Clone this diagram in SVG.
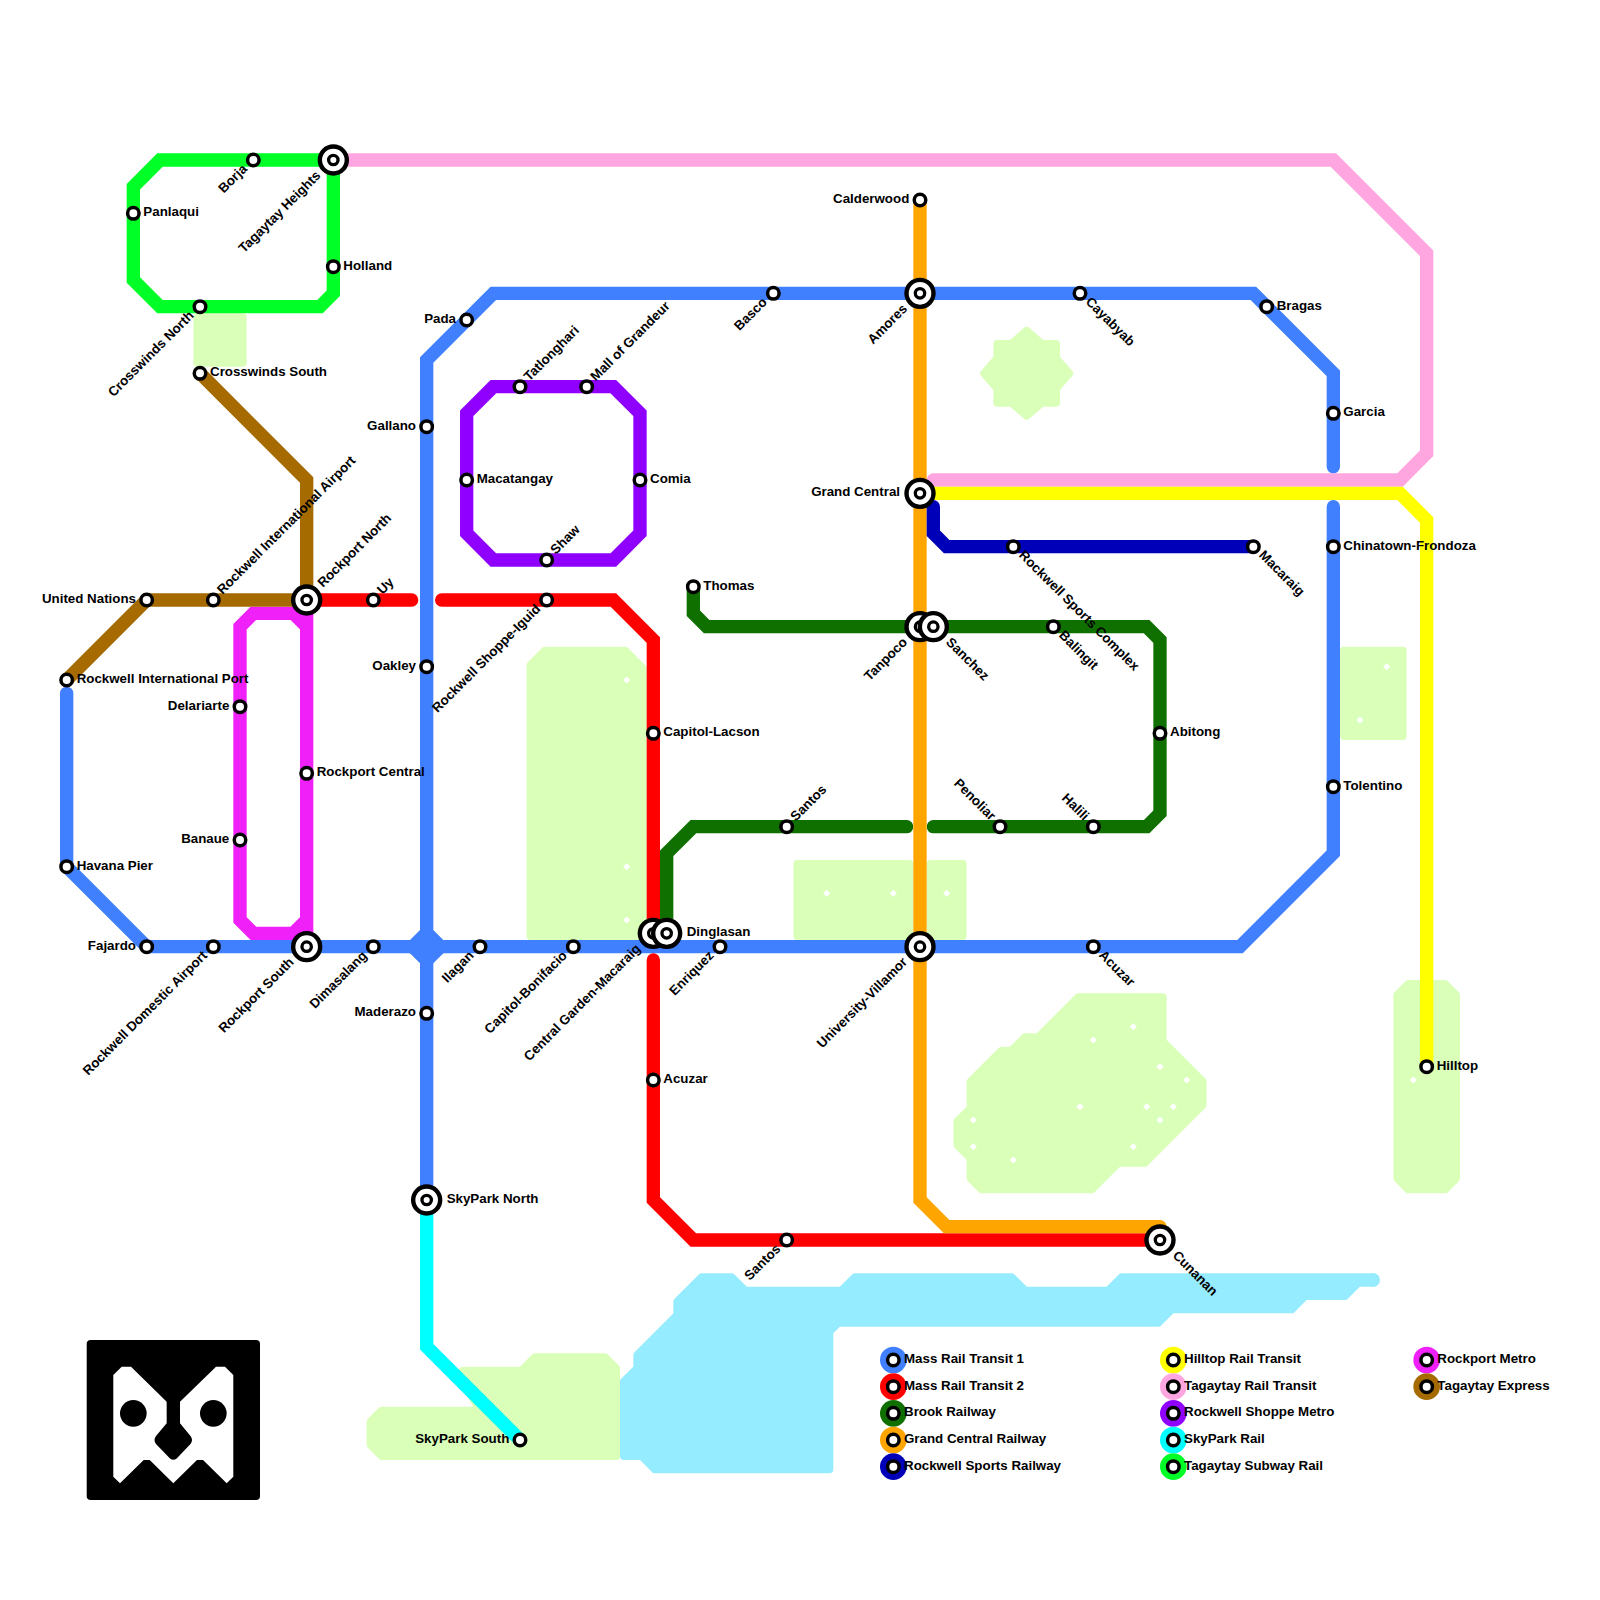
<svg xmlns="http://www.w3.org/2000/svg" width="1600" height="1600" viewBox="0 0 1600 1600">
<style>
text{font-family:"Liberation Sans",Arial,sans-serif;font-size:13.33px;font-weight:700;fill:#000}
.e{text-anchor:end}
.ln{fill:none;stroke-width:13.33;stroke-linejoin:miter;stroke-linecap:round}
.park{fill:#d9ffb8;stroke:#d9ffb8;stroke-width:8;stroke-linejoin:round}
.water{fill:#96ecff;stroke:#96ecff;stroke-width:8;stroke-linejoin:round}
.dia{fill:#fff}
.s{fill:#fff;stroke:#000;stroke-width:3.5}
.o{fill:#fff;stroke:#000;stroke-width:4.4}
.i{fill:#fff;stroke:#000;stroke-width:3.3}
.blue{stroke:#4080ff}.red{stroke:#ff0000}.brook{stroke:#0f7000}.orange{stroke:#ffa500}.navy{stroke:#0000b8}
.yellow{stroke:#ffff00}.pink{stroke:#ffa6e0}.purple{stroke:#8f00ff}.cyan{stroke:#00ffff}.green{stroke:#00ff26}.mag{stroke:#f020f8}.brown{stroke:#a56a00}
</style>
<defs>
<g id="st"><circle r="5.75" class="s"/></g>
<g id="big"><circle r="13.5" class="o"/><circle r="4.7" class="i"/></g>
<path id="d" class="dia" d="M0-3.6L3.6 0L0 3.6L-3.6 0Z"/>
</defs>

<g id="terrain">
<polygon class="water" points="701.67,1277.33 731.67,1277.33 745,1290.67 841.67,1290.67 855,1277.33 1011.67,1277.33 1025,1290.67 1108.33,1290.67 1121.67,1277.33 1373.33,1277.33 1373.33,1282.67 1358.33,1282.67 1345,1296 1305,1296 1291.67,1309.33 1171.67,1309.33 1158.33,1322.67 838.33,1322.67 829.33,1331.67 829.33,1469.33 655,1469.33 641.67,1456 624,1456 624,1381.67 637.33,1368.33 637.33,1355 677.33,1315 677.33,1301.67"/>
<circle cx="1373.33" cy="1280" r="6.67" fill="#96ecff"/>
<rect class="park" x="197.33" y="317.33" width="45.33" height="45.33"/>
<polygon class="park" points="530.67,665 545,650.67 625,650.67 642.67,668.33 642.67,936 530.67,936"/>
<rect class="park" x="797.33" y="864" width="112" height="72"/>
<rect class="park" x="930.67" y="864" width="32" height="72"/>
<polygon class="park" points="1026.67,330.8 1041.67,344 1056,344 1056,358.33 1069.2,373.33 1056,388.33 1056,402.67 1041.67,402.67 1026.67,415.8 1011.67,402.67 997.33,402.67 997.33,388.33 984.2,373.33 997.33,358.33 997.33,344 1011.67,344"/>
<rect class="park" x="1344" y="650.67" width="58.67" height="85.33"/>
<polygon class="park" points="1397.33,995 1408.33,984 1445,984 1456,995 1456,1178.33 1445,1189.33 1408.33,1189.33 1397.33,1178.33"/>
<polygon class="park" points="1078.33,997.33 1162.67,997.33 1162.67,1041.67 1202.67,1081.67 1202.67,1105 1145,1162.67 1118.33,1162.67 1091.67,1189.33 981.67,1189.33 970.67,1178.33 970.67,1158.33 957.33,1145 957.33,1121.67 970.67,1108.33 970.67,1081.67 1001.67,1050.67 1011.67,1050.67 1025,1037.33 1038.33,1037.33"/>
<polygon class="park" points="370.67,1421.67 381.67,1410.67 480,1410.67 466,1386 463,1370.67 521.67,1370.67 535,1357.33 605,1357.33 616,1368.33 616,1456 381.67,1456 370.67,1445"/>
<use href="#d" x="626.67" y="680"/><use href="#d" x="626.67" y="866.67"/><use href="#d" x="626.67" y="920"/>
<use href="#d" x="826.67" y="893.33"/><use href="#d" x="893.33" y="893.33"/><use href="#d" x="946.67" y="893.33"/>
<use href="#d" x="1386.67" y="666.67"/><use href="#d" x="1360" y="720"/><use href="#d" x="1413.33" y="1080"/>
<use href="#d" x="1133.33" y="1026.67"/><use href="#d" x="1093.33" y="1040"/><use href="#d" x="1160" y="1066.67"/><use href="#d" x="1186.67" y="1080"/>
<use href="#d" x="1080" y="1106.67"/><use href="#d" x="1146.67" y="1106.67"/><use href="#d" x="1173.33" y="1106.67"/><use href="#d" x="1160" y="1120"/>
<use href="#d" x="973.33" y="1120"/><use href="#d" x="973.33" y="1146.67"/><use href="#d" x="1133.33" y="1146.67"/><use href="#d" x="1013.33" y="1160"/>
</g>

<g id="connectors">
<path class="ln pink" d="M333.33 160H1333.33L1426.67 253.33V453.33L1400 480H933.33"/>
<path class="ln green" d="M333.33 160H160L133.33 186.67V280L160 306.67H320L333.33 293.33V160"/>
<path class="ln mag" d="M306.67 600V626.67L293.33 613.33H253.33L240 626.67V920L253.33 933.33H293.33L306.67 920V626.67M306.67 920V946.67"/>
<path class="ln brown" d="M200 373.33L306.67 480V600H146.67L66.67 680"/>
<path class="ln blue" d="M66.67 693.33V866.67L146.67 946.67H1240L1333.33 853.33V506.67"/>
<path class="ln blue" d="M1333.33 466.67V373.33L1253.33 293.33H493.33L426.67 360V1200"/>
<polygon fill="#4080ff" points="420,930 433.33,930 443.33,940 443.33,953.33 433.33,963.33 420,963.33 410,953.33 410,940"/>
<path class="ln red" d="M306.67 600H411.67M441.67 600H613.33L653.33 640V933.33M653.33 960V1200L693.33 1240H1160"/>
<path class="ln brook" d="M693.33 586.67V613.33L706.67 626.67H1146.67L1160 640V813.33L1146.67 826.67H933.33M906.67 826.67H693.33L666.67 853.33V933.33"/>
<path class="ln orange" d="M920 200V1200L946.67 1226.67H1160"/>
<path class="ln navy" d="M933.33 506.67V533.33L946.67 546.67H1253.33"/>
<path class="ln yellow" d="M920 493.33H1400L1426.67 520V1066.67"/>
<path class="ln purple" d="M493.33 386.67H613.33L640 413.33V533.33L613.33 560H493.33L466.67 533.33V413.33Z"/>
<path class="ln cyan" d="M426.67 1200V1346.67L520 1440"/>
</g>

<g id="logo">
<rect x="86.7" y="1340" width="173.3" height="160" rx="4" fill="#000"/>
<path fill="#fff" d="M113.3 1375L121.7 1366.7H131L166.7 1401.7H180L216 1366.7H225L233.3 1375V1476.7L226.7 1483.3L203 1460H197L173.3 1483.3L149.7 1460H143.7L120 1483.3L113.3 1476.7Z"/>
<path fill="#000" d="M166.67 1400V1423.33L156 1436Q153 1440 156 1444L170 1458.5Q173.33 1461 176.67 1458.5L190.5 1444Q193.5 1440 190.5 1436L180 1423.33V1400Z"/>
<circle cx="133.33" cy="1413.33" r="13.33" fill="#000"/><circle cx="213.33" cy="1413.33" r="13.33" fill="#000"/>
</g>

<g id="stations">
<g id="n-tagaytay-heights"><use href="#big" x="333.33" y="160"/><text class="e" x="313.33" y="163" transform="rotate(-45 333.33 160)">Tagaytay Heights</text></g>
<g id="n-borja"><use href="#st" x="253.33" y="160"/><text class="e" x="242.63" y="163" transform="rotate(-45 253.33 160)">Borja</text></g>
<g id="n-panlaqui"><use href="#st" x="133.33" y="213.33"/><text x="143.33" y="216.33">Panlaqui</text></g>
<g id="n-holland"><use href="#st" x="333.33" y="266.67"/><text x="343.33" y="269.67">Holland</text></g>
<g id="n-crosswinds-north"><use href="#st" x="200" y="306.67"/><text class="e" x="189.3" y="309.67" transform="rotate(-45 200 306.67)">Crosswinds North</text></g>
<g id="n-crosswinds-south"><use href="#st" x="200" y="373.33"/><text x="210" y="376.33">Crosswinds South</text></g>
<g id="n-pada"><use href="#st" x="466.67" y="320"/><text class="e" x="456" y="323">Pada</text></g>
<g id="n-gallano"><use href="#st" x="426.67" y="426.67"/><text class="e" x="416" y="429.67">Gallano</text></g>
<g id="n-oakley"><use href="#st" x="426.67" y="666.67"/><text class="e" x="416" y="669.67">Oakley</text></g>
<g id="n-maderazo"><use href="#st" x="426.67" y="1013.33"/><text class="e" x="416" y="1016.33">Maderazo</text></g>
<g id="n-tatlonghari"><use href="#st" x="520" y="386.67"/><text x="530" y="389.67" transform="rotate(-45 520 386.67)">Tatlonghari</text></g>
<g id="n-mall-of-grandeur"><use href="#st" x="586.67" y="386.67"/><text x="596.67" y="389.67" transform="rotate(-45 586.67 386.67)">Mall of Grandeur</text></g>
<g id="n-comia"><use href="#st" x="640" y="480"/><text x="650" y="483">Comia</text></g>
<g id="n-shaw"><use href="#st" x="546.67" y="560"/><text x="556.67" y="563" transform="rotate(-45 546.67 560)">Shaw</text></g>
<g id="n-macatangay"><use href="#st" x="466.67" y="480"/><text x="476.67" y="483">Macatangay</text></g>
<g id="n-basco"><use href="#st" x="773.33" y="293.33"/><text class="e" x="762.6" y="296.33" transform="rotate(-45 773.33 293.33)">Basco</text></g>
<g id="n-amores"><use href="#big" x="920" y="293.33"/><text class="e" x="900" y="296.33" transform="rotate(-45 920 293.33)">Amores</text></g>
<g id="n-cayabyab"><use href="#st" x="1080" y="293.33"/><text x="1090" y="296.33" transform="rotate(45 1080 293.33)">Cayabyab</text></g>
<g id="n-bragas"><use href="#st" x="1266.67" y="306.67"/><text x="1276.67" y="309.67">Bragas</text></g>
<g id="n-garcia"><use href="#st" x="1333.33" y="413.33"/><text x="1343.33" y="416.33">Garcia</text></g>
<g id="n-chinatown-frondoza"><use href="#st" x="1333.33" y="546.67"/><text x="1343.33" y="549.67">Chinatown-Frondoza</text></g>
<g id="n-tolentino"><use href="#st" x="1333.33" y="786.67"/><text x="1343.33" y="789.67">Tolentino</text></g>
<g id="n-calderwood"><use href="#st" x="920" y="200"/><text class="e" x="909.3" y="203">Calderwood</text></g>
<g id="n-grand-central"><use href="#big" x="920" y="493.33"/><text class="e" x="900" y="496.33">Grand Central</text></g>
<g id="n-macaraig"><use href="#st" x="1253.33" y="546.67"/><text x="1263.33" y="549.67" transform="rotate(45 1253.33 546.67)">Macaraig</text></g>
<g id="n-rockwell-sports-complex"><use href="#st" x="1013.33" y="546.67"/><text x="1023.33" y="549.67" transform="rotate(45 1013.33 546.67)">Rockwell Sports Complex</text></g>
<g id="n-balingit"><use href="#st" x="1053.33" y="626.67"/><text x="1063.33" y="629.67" transform="rotate(45 1053.33 626.67)">Balingit</text></g>
<g id="n-tanpoco"><use href="#big" x="920" y="626.67"/><text class="e" x="900" y="629.67" transform="rotate(-45 920 626.67)">Tanpoco</text></g>
<g id="n-sanchez"><use href="#big" x="933.33" y="626.67"/><text x="953.33" y="629.67" transform="rotate(45 933.33 626.67)">Sanchez</text></g>
<g id="n-thomas"><use href="#st" x="693.33" y="586.67"/><text x="703.33" y="589.67">Thomas</text></g>
<g id="n-abitong"><use href="#st" x="1160" y="733.33"/><text x="1170" y="736.33">Abitong</text></g>
<g id="n-santos-brook"><use href="#st" x="786.67" y="826.67"/><text x="796.67" y="829.67" transform="rotate(-45 786.67 826.67)">Santos</text></g>
<g id="n-penoliar"><use href="#st" x="1000" y="826.67"/><text class="e" x="989.3" y="829.67" transform="rotate(45 1000 826.67)">Penoliar</text></g>
<g id="n-halili"><use href="#st" x="1093.33" y="826.67"/><text class="e" x="1082.6" y="829.67" transform="rotate(45 1093.33 826.67)">Halili</text></g>
<g id="n-acuzar-east"><use href="#st" x="1093.33" y="946.67"/><text x="1103.33" y="949.67" transform="rotate(45 1093.33 946.67)">Acuzar</text></g>
<g id="n-university-villamor"><use href="#big" x="920" y="946.67"/><text class="e" x="900" y="949.67" transform="rotate(-45 920 946.67)">University-Villamor</text></g>
<g id="n-enriquez"><use href="#st" x="720" y="946.67"/><text class="e" x="709.3" y="949.67" transform="rotate(-45 720 946.67)">Enriquez</text></g>
<g id="n-capitol-bonifacio"><use href="#st" x="573.33" y="946.67"/><text class="e" x="562.6" y="949.67" transform="rotate(-45 573.33 946.67)">Capitol-Bonifacio</text></g>
<g id="n-central-garden-macaraig"><use href="#big" x="653.33" y="933.33"/><text class="e" x="633.33" y="936.33" transform="rotate(-45 653.33 933.33)">Central Garden-Macaraig</text></g>
<g id="n-dinglasan"><use href="#big" x="666.67" y="933.33"/><text x="686.67" y="936.33">Dinglasan</text></g>
<g id="n-ilagan"><use href="#st" x="480" y="946.67"/><text class="e" x="469.3" y="949.67" transform="rotate(-45 480 946.67)">Ilagan</text></g>
<g id="n-dimasalang"><use href="#st" x="373.33" y="946.67"/><text class="e" x="362.6" y="949.67" transform="rotate(-45 373.33 946.67)">Dimasalang</text></g>
<g id="n-rockport-south"><use href="#big" x="306.67" y="946.67"/><text class="e" x="286.67" y="949.67" transform="rotate(-45 306.67 946.67)">Rockport South</text></g>
<g id="n-rockwell-domestic-airport"><use href="#st" x="213.33" y="946.67"/><text class="e" x="202.6" y="949.67" transform="rotate(-45 213.33 946.67)">Rockwell Domestic Airport</text></g>
<g id="n-fajardo"><use href="#st" x="146.67" y="946.67"/><text class="e" x="136" y="949.67">Fajardo</text></g>
<g id="n-havana-pier"><use href="#st" x="66.67" y="866.67"/><text x="76.67" y="869.67">Havana Pier</text></g>
<g id="n-rockwell-international-port"><use href="#st" x="66.67" y="680"/><text x="76.67" y="683">Rockwell International Port</text></g>
<g id="n-united-nations"><use href="#st" x="146.67" y="600"/><text class="e" x="136" y="603">United Nations</text></g>
<g id="n-rockwell-international-airport"><use href="#st" x="213.33" y="600"/><text x="223.33" y="603" transform="rotate(-45 213.33 600)">Rockwell International Airport</text></g>
<g id="n-rockport-north"><use href="#big" x="306.67" y="600"/><text x="326.67" y="603" transform="rotate(-45 306.67 600)">Rockport North</text></g>
<g id="n-uy"><use href="#st" x="373.33" y="600"/><text x="383.33" y="603" transform="rotate(-45 373.33 600)">Uy</text></g>
<g id="n-rockwell-shoppe-iguid"><use href="#st" x="546.67" y="600"/><text class="e" x="536" y="603" transform="rotate(-45 546.67 600)">Rockwell Shoppe-Iguid</text></g>
<g id="n-delariarte"><use href="#st" x="240" y="706.67"/><text class="e" x="229.3" y="709.67">Delariarte</text></g>
<g id="n-banaue"><use href="#st" x="240" y="840"/><text class="e" x="229.3" y="843">Banaue</text></g>
<g id="n-rockport-central"><use href="#st" x="306.67" y="773.33"/><text x="316.67" y="776.33">Rockport Central</text></g>
<g id="n-skypark-north"><use href="#big" x="426.67" y="1200"/><text x="446.67" y="1203">SkyPark North</text></g>
<g id="n-skypark-south"><use href="#st" x="520" y="1440"/><text class="e" x="509.3" y="1443">SkyPark South</text></g>
<g id="n-santos-south"><use href="#st" x="786.67" y="1240"/><text class="e" x="776" y="1243" transform="rotate(-45 786.67 1240)">Santos</text></g>
<g id="n-acuzar"><use href="#st" x="653.33" y="1080"/><text x="663.33" y="1083">Acuzar</text></g>
<g id="n-capitol-lacson"><use href="#st" x="653.33" y="733.33"/><text x="663.33" y="736.33">Capitol-Lacson</text></g>
<g id="n-cunanan"><use href="#big" x="1160" y="1240"/><text x="1180" y="1243" transform="rotate(45 1160 1240)">Cunanan</text></g>
<g id="n-hilltop"><use href="#st" x="1426.67" y="1066.67"/><text x="1436.67" y="1069.67">Hilltop</text></g>
</g>

<g id="legend">
<g id="k1"><circle cx="893.33" cy="1360" r="13.33" fill="#4080ff"/><use href="#st" x="893.33" y="1360"/><text x="904" y="1363">Mass Rail Transit 1</text></g>
<g id="k2"><circle cx="893.33" cy="1386.67" r="13.33" fill="#ff0000"/><use href="#st" x="893.33" y="1386.67"/><text x="904" y="1389.67">Mass Rail Transit 2</text></g>
<g id="k3"><circle cx="893.33" cy="1413.33" r="13.33" fill="#0f7000"/><use href="#st" x="893.33" y="1413.33"/><text x="904" y="1416.33">Brook Railway</text></g>
<g id="k4"><circle cx="893.33" cy="1440" r="13.33" fill="#ffa500"/><use href="#st" x="893.33" y="1440"/><text x="904" y="1443">Grand Central Railway</text></g>
<g id="k5"><circle cx="893.33" cy="1466.67" r="13.33" fill="#0000b8"/><use href="#st" x="893.33" y="1466.67"/><text x="904" y="1469.67">Rockwell Sports Railway</text></g>
<g id="k6"><circle cx="1173.33" cy="1360" r="13.33" fill="#ffff00"/><use href="#st" x="1173.33" y="1360"/><text x="1184" y="1363">Hilltop Rail Transit</text></g>
<g id="k7"><circle cx="1173.33" cy="1386.67" r="13.33" fill="#ffa6e0"/><use href="#st" x="1173.33" y="1386.67"/><text x="1184" y="1389.67">Tagaytay Rail Transit</text></g>
<g id="k8"><circle cx="1173.33" cy="1413.33" r="13.33" fill="#8f00ff"/><use href="#st" x="1173.33" y="1413.33"/><text x="1184" y="1416.33">Rockwell Shoppe Metro</text></g>
<g id="k9"><circle cx="1173.33" cy="1440" r="13.33" fill="#00ffff"/><use href="#st" x="1173.33" y="1440"/><text x="1184" y="1443">SkyPark Rail</text></g>
<g id="k10"><circle cx="1173.33" cy="1466.67" r="13.33" fill="#00ff26"/><use href="#st" x="1173.33" y="1466.67"/><text x="1184" y="1469.67">Tagaytay Subway Rail</text></g>
<g id="k11"><circle cx="1426.67" cy="1360" r="13.33" fill="#f020f8"/><use href="#st" x="1426.67" y="1360"/><text x="1437.33" y="1363">Rockport Metro</text></g>
<g id="k12"><circle cx="1426.67" cy="1386.67" r="13.33" fill="#a56a00"/><use href="#st" x="1426.67" y="1386.67"/><text x="1437.33" y="1389.67">Tagaytay Express</text></g>
</g>
</svg>
